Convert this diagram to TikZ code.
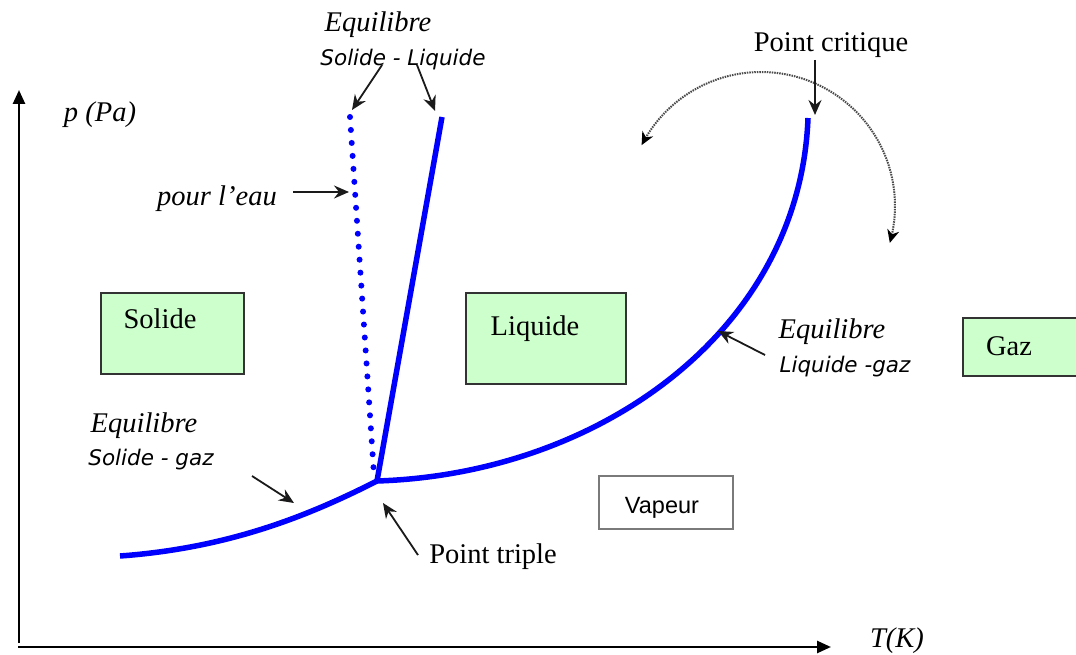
\documentclass[tikz,border=0pt]{standalone}
\usepackage{fontspec}
\setmainfont{Liberation Serif}
\newfontfamily\sansobl{DejaVu Sans}
\newfontfamily\sansreg{Liberation Sans}
\usetikzlibrary{arrows.meta}
\definecolor{boxgreen}{HTML}{CCFFCC}
\definecolor{curveblue}{HTML}{0000FF}
\definecolor{boxedge}{HTML}{333333}
\definecolor{vapedge}{HTML}{7A7A7A}
\definecolor{arrowgray}{HTML}{1A1A1A}
\definecolor{swinggray}{HTML}{4A4A4A}
\begin{document}
\begin{tikzpicture}[x=1pt,y=-1pt,
  serif/.style={font=\fontsize{28.5}{30}\selectfont, inner sep=0pt, anchor=base},
  ital/.style={font=\fontsize{28.5}{30}\selectfont\itshape, inner sep=0pt, anchor=base},
  sobl/.style={font=\fontsize{21.5}{24}\selectfont\sansobl\itshape, inner sep=0pt, anchor=base},
  sreg/.style={font=\fontsize{23.5}{26}\selectfont\sansreg, inner sep=0pt, anchor=base},
  gbox/.style={draw=boxedge, fill=boxgreen, line width=2pt, inner sep=0pt},
  wbox/.style={draw=vapedge, fill=white, line width=1.5pt, inner sep=0pt},
  phase/.style={draw=curveblue, line width=5.5pt, line join=round},
  axis/.style={draw=black, line width=2.5pt, -{Triangle[length=14pt,width=12pt]}},
  pointer/.style={draw=arrowgray, line width=1.8pt, -{Stealth[length=15pt,width=13pt,inset=5pt]}},
  swing/.style={draw=swinggray, line width=2pt, dash pattern=on 1.5pt off 1pt,
    {Stealth[length=13pt,width=12pt,inset=4pt,color=black,fill=black]}-{Stealth[length=13pt,width=12pt,inset=4pt,color=black,fill=black]}}
]
\useasboundingbox (0,0) rectangle (1076,655);
\fill[white] (0,0) rectangle (1076,655);

% axes
\coordinate (yb) at (19,643);
\coordinate (yt) at (19,90);
\coordinate (xb) at (18,647);
\coordinate (xt) at (831,647);
\draw[axis] (yb) -- (yt);
\draw[axis] (xb) -- (xt);

% boxes
\node[gbox, minimum width=143pt, minimum height=81pt] (solidebox) at (172.5,333.5) {};
\node[gbox, minimum width=160pt, minimum height=91pt] (liquidebox) at (546,338.5) {};
\node[gbox, minimum width=117pt, minimum height=58pt] (gazbox) at (1021.5,347) {};
\node[wbox, minimum width=134pt, minimum height=53pt] (vapeurbox) at (666,502.5) {};

% phase curves
\coordinate (TP) at (377,481);
\coordinate (CP) at (808,118);
\coordinate (SLtop) at (442,117);
\coordinate (SLwtop) at (350,117);
\coordinate (SGstart) at (120,556);
\draw[phase] (SGstart) .. controls (230,548) and (310,515) .. (TP);
\draw[phase] (TP) -- (SLtop);
\draw[phase] (TP) .. controls (600,474) and (800,330) .. (CP);
\draw[draw=curveblue, line width=6pt, line cap=round, dash pattern=on 0pt off 13pt] (SLwtop) -- (374,475);

% dotted swing arc
\draw[swing] plot[domain=207:376, samples=90] ({761+134*cos(\x)},{206+134*sin(\x)});

% texts
\node[ital] (eqSL) at (378,32) {Equilibre};
\node[sobl] (SL) at (403,66) {Solide - Liquide};
\node[serif] (pc) at (831,52) {Point critique};
\node[ital] (pPa) at (100,122) {p (Pa)};
\node[ital] (eau) at (217,206) {pour l’eau};
\node[serif] (solide) at (160,328) {Solide};
\node[serif] (liquide) at (535,335) {Liquide};
\node[serif] (gaz) at (1009,355) {Gaz};
\node[ital] (eqLG) at (832,338) {Equilibre};
\node[sobl] (LG) at (845,372) {Liquide -gaz};
\node[ital] (eqSG) at (144,432) {Equilibre};
\node[sobl] (SG) at (151,465) {Solide - gaz};
\node[sreg] (vapeur) at (662,513) {Vapeur};
\node[serif] (ptriple) at (493,563) {Point triple};
\node[ital] (TK) at (897,647) {T(K)};

% pointer arrows
\coordinate (a1s) at (382,65);  \coordinate (a1e) at (352,110);
\coordinate (a2s) at (417,65);  \coordinate (a2e) at (435,111);
\coordinate (a3s) at (293,192); \coordinate (a3e) at (349,192);
\coordinate (a4s) at (815,60);  \coordinate (a4e) at (815,115);
\coordinate (a5s) at (765,355); \coordinate (a5e) at (718,331);
\coordinate (a6s) at (252,476); \coordinate (a6e) at (294,503);
\coordinate (a7s) at (418,555); \coordinate (a7e) at (383,503);
\draw[pointer] (a1s) -- (a1e);
\draw[pointer] (a2s) -- (a2e);
\draw[pointer] (a3s) -- (a3e);
\draw[pointer] (a4s) -- (a4e);
\draw[pointer] (a5s) -- (a5e);
\draw[pointer] (a6s) -- (a6e);
\draw[pointer] (a7s) -- (a7e);
\end{tikzpicture}
\end{document}
